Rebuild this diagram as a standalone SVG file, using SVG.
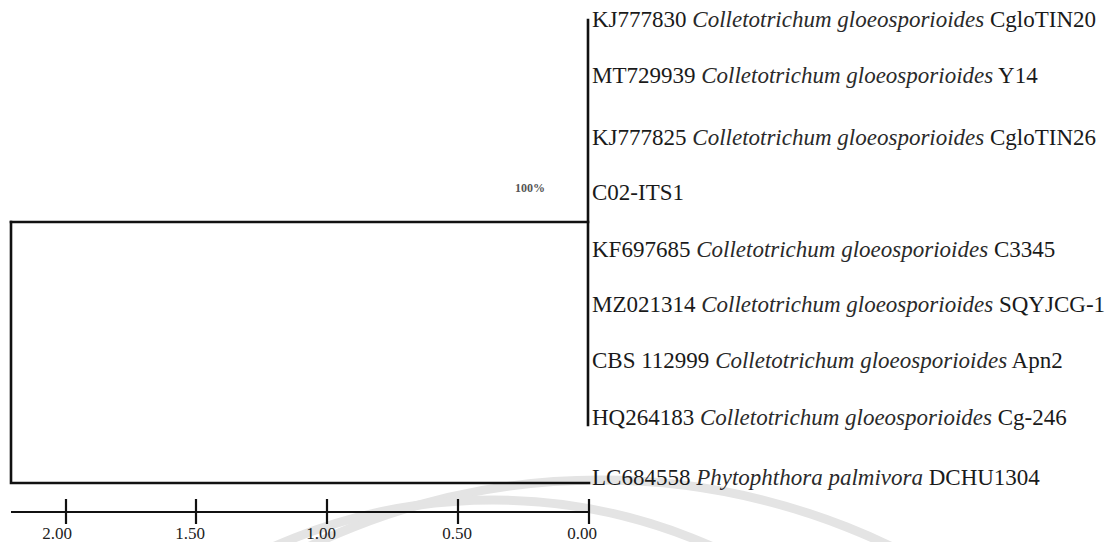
<svg xmlns="http://www.w3.org/2000/svg" width="1117" height="542" viewBox="0 0 1117 542">
<style>
.lbl{font-family:"Liberation Serif","Times New Roman",serif;font-size:23px;fill:#1a1a1a}
.sp{font-style:italic;fill:#2a2a2a}
.br{stroke:#111;stroke-width:2.6;fill:none;stroke-linecap:square}
.sc{stroke:#111;stroke-width:2.2;fill:none}
.tk{font-family:"Liberation Serif","Times New Roman",serif;font-size:17px;fill:#222;text-anchor:middle}
.wm{stroke:#e4e4e4;stroke-width:9;fill:none}
.bs{font-family:"Liberation Serif","Times New Roman",serif;font-size:12px;font-weight:bold;fill:#555;text-anchor:middle}
</style>
<rect width="1117" height="542" fill="#ffffff"/>
<g id="watermark">
<circle class="wm" cx="600" cy="1150" r="670"/>
<circle class="wm" cx="493" cy="1039" r="539"/>
</g>
<g id="connectors">
<path class="br" d="M588 20 V425"/>
<path class="br" d="M11 222 H588"/>
<path class="br" d="M11 222 V483 H589"/>
</g>
<g id="support"><text class="bs" x="530" y="192">100%</text></g>
<g id="n1"><text class="lbl" x="592" y="27">KJ777830 <tspan class="sp">Colletotrichum gloeosporioides</tspan> CgloTIN20</text></g>
<g id="n2"><text class="lbl" x="592" y="83">MT729939 <tspan class="sp">Colletotrichum gloeosporioides</tspan> Y14</text></g>
<g id="n3"><text class="lbl" x="592" y="145">KJ777825 <tspan class="sp">Colletotrichum gloeosporioides</tspan> CgloTIN26</text></g>
<g id="n4"><text class="lbl" x="592" y="200">C02-ITS1</text></g>
<g id="n5"><text class="lbl" x="592" y="257">KF697685 <tspan class="sp">Colletotrichum gloeosporioides</tspan> C3345</text></g>
<g id="n6"><text class="lbl" x="592" y="312">MZ021314 <tspan class="sp">Colletotrichum gloeosporioides</tspan> SQYJCG-1</text></g>
<g id="n7"><text class="lbl" x="592" y="368">CBS 112999 <tspan class="sp">Colletotrichum gloeosporioides</tspan> Apn2</text></g>
<g id="n8"><text class="lbl" x="592" y="425">HQ264183 <tspan class="sp">Colletotrichum gloeosporioides</tspan> Cg-246</text></g>
<g id="n9"><text class="lbl" x="592" y="485">LC684558 <tspan class="sp">Phytophthora palmivora</tspan> DCHU1304</text></g>
<g id="scale">
<path class="sc" d="M11 512 H589 M66 499 V524 M196 499 V524 M327 499 V524 M458 499 V524 M589 499 V524"/>
<text class="tk" x="57" y="539">2.00</text>
<text class="tk" x="190" y="539">1.50</text>
<text class="tk" x="321" y="539">1.00</text>
<text class="tk" x="457" y="539">0.50</text>
<text class="tk" x="582" y="539">0.00</text>
</g>
</svg>
